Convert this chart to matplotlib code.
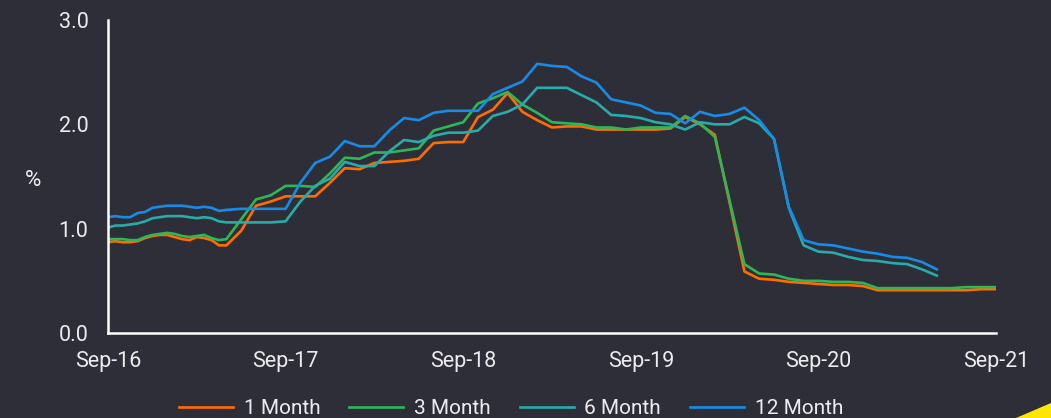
import matplotlib
matplotlib.use('Agg')
import matplotlib.pyplot as plt
from matplotlib.patches import Polygon

plt.rcParams['font.family'] = ['Roboto', 'DejaVu Sans']

# months since Sep-16: half-monthly readings first, then month-end values
months_early = [0, 0.5, 1, 1.5, 2, 2.5, 3, 3.5, 4, 4.5, 5, 5.5, 6, 6.5, 7, 7.5]
months_late = [8, 9, 10, 11, 12, 13, 14, 15, 16, 17, 18, 19, 20, 21, 22, 23, 24,
               25, 26, 27, 28, 29, 30, 31, 32, 33, 34, 35, 36, 37, 38, 39, 40,
               41, 42, 43, 44, 45, 46, 47, 48, 49, 50, 51, 52, 53, 54, 55, 56,
               57, 58, 59, 60]

one_month = [0.87, 0.88, 0.87, 0.87, 0.88, 0.91, 0.93, 0.94, 0.94, 0.92, 0.90, 0.89,
             0.92, 0.91, 0.89, 0.84,
             0.84, 0.98, 1.22, 1.26, 1.31, 1.31, 1.31, 1.44, 1.58, 1.57, 1.63, 1.64,
             1.65, 1.67, 1.82, 1.83, 1.83, 2.07, 2.14, 2.30, 2.12, 2.04, 1.97, 1.98,
             1.98, 1.95, 1.95, 1.95, 1.95, 1.95, 1.96, 2.07, 2.00, 1.90, 1.25, 0.59,
             0.52, 0.51, 0.49, 0.48, 0.47, 0.46, 0.46, 0.45, 0.41, 0.41, 0.41, 0.41,
             0.41, 0.41, 0.41, 0.42, 0.42]
three_month = [0.90, 0.90, 0.90, 0.89, 0.89, 0.92, 0.94, 0.95, 0.96, 0.95, 0.93, 0.92,
               0.93, 0.94, 0.91, 0.89,
               0.90, 1.09, 1.28, 1.32, 1.41, 1.41, 1.40, 1.53, 1.68, 1.67, 1.73, 1.73,
               1.75, 1.77, 1.94, 1.98, 2.02, 2.20, 2.25, 2.31, 2.19, 2.11, 2.02, 2.01,
               2.00, 1.97, 1.97, 1.95, 1.97, 1.97, 1.97, 2.08, 2.01, 1.88, 1.27, 0.66,
               0.57, 0.56, 0.52, 0.50, 0.50, 0.49, 0.49, 0.48, 0.43, 0.43, 0.43, 0.43,
               0.43, 0.43, 0.44, 0.44, 0.44]
six_month = [1.01, 1.03, 1.03, 1.04, 1.05, 1.07, 1.10, 1.11, 1.12, 1.12, 1.12, 1.11,
             1.10, 1.11, 1.10, 1.07,
             1.06, 1.06, 1.06, 1.06, 1.07, 1.26, 1.41, 1.48, 1.64, 1.60, 1.60, 1.74,
             1.85, 1.83, 1.89, 1.92, 1.92, 1.94, 2.08, 2.12, 2.19, 2.35, 2.35, 2.35,
             2.28, 2.21, 2.09, 2.08, 2.06, 2.02, 2.00, 1.95, 2.02, 2.00, 2.00, 2.07,
             2.01, 1.86, 1.20, 0.84, 0.78, 0.77, 0.73, 0.70, 0.69, 0.67, 0.66, 0.61,
             0.55]
twelve_month = [1.11, 1.12, 1.11, 1.11, 1.15, 1.16, 1.20, 1.21, 1.22, 1.22, 1.22, 1.21,
                1.20, 1.21, 1.20, 1.17,
                1.18, 1.19, 1.19, 1.19, 1.19, 1.44, 1.63, 1.69, 1.84, 1.79, 1.79, 1.94,
                2.06, 2.04, 2.11, 2.13, 2.13, 2.13, 2.29, 2.35, 2.41, 2.58, 2.56, 2.55,
                2.46, 2.40, 2.24, 2.21, 2.18, 2.11, 2.10, 2.01, 2.12, 2.08, 2.10, 2.16,
                2.04, 1.86, 1.21, 0.89, 0.85, 0.84, 0.81, 0.78, 0.76, 0.73, 0.72, 0.68,
                0.61]

tick_pos = [0, 12, 24, 36, 48, 60]
tick_labels = ['Sep-16', 'Sep-17', 'Sep-18', 'Sep-19', 'Sep-20', 'Sep-21']

bg = '#2e2e38'
fg = '#ececee'

fig = plt.figure(figsize=(10.51, 4.18), dpi=100, facecolor=bg)
ax = fig.add_axes([108 / 1051, 85 / 418, 888 / 1051, 313 / 418], facecolor=bg)

x_all = months_early + months_late
series = [
    (one_month, '#ff6d00', '1 Month'),
    (three_month, '#2db757', '3 Month'),
    (six_month, '#27acaa', '6 Month'),
    (twelve_month, '#188ce5', '12 Month'),
]
for vals, color, label in series:
    ax.plot(x_all[:len(vals)], vals, color=color, lw=1.9, label=label,
            solid_joinstyle='round')

ax.set_xlim(0, 60)
ax.set_ylim(0, 3)
ax.set_yticks([0, 1, 2, 3])
ax.set_yticklabels(['0.0', '1.0', '2.0', '3.0'])
ax.set_xticks(tick_pos)
ax.set_xticklabels(tick_labels)
ax.tick_params(length=0, labelsize=15.5, colors=fg)
ax.tick_params(axis='y', pad=14)
ax.tick_params(axis='x', pad=13)
for side in ['top', 'right']:
    ax.spines[side].set_visible(False)
for side in ['left', 'bottom']:
    ax.spines[side].set_color('white')
    ax.spines[side].set_linewidth(1.8)

fig.text(33 / 1051, 1 - 180 / 418, '%', color=fg, fontsize=16,
         ha='center', va='center')

fig.legend(loc='center', bbox_to_anchor=(511 / 1051, 1 - 409 / 418), ncol=4,
           frameon=False, fontsize=15, labelcolor=fg, handlelength=2.6,
           handletextpad=0.5, columnspacing=1.4, borderaxespad=0)

# yellow beam corner
fig.patches.append(Polygon([(1016 / 1051, 0), (1, 15 / 418), (1, 0)],
                           closed=True, transform=fig.transFigure,
                           facecolor='#ffe600', edgecolor='none'))

fig.savefig('out.png', dpi=100, facecolor=bg)
